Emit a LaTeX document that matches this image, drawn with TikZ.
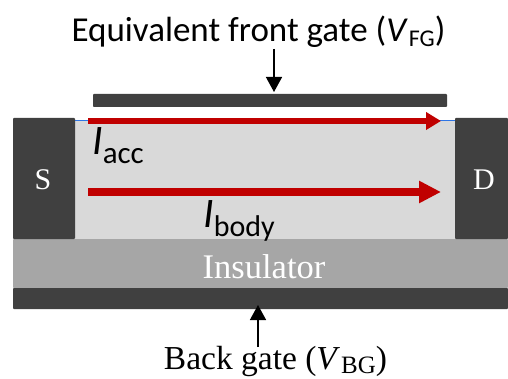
\documentclass[tikz,border=0pt]{standalone}
\usepackage{fontspec}
\setmainfont{Liberation Serif}
\newfontfamily\carl{Carlito}
\usetikzlibrary{arrows.meta}
\definecolor{dgray}{HTML}{404040}
\definecolor{chan}{HTML}{D9D9D9}
\definecolor{insul}{HTML}{A6A6A6}
\definecolor{cred}{HTML}{C00000}
\definecolor{cblue}{HTML}{2E75E6}
\tikzset{
 block/.style={draw=none,rounded corners=0.8pt},
 current/.style={draw=cred,line width=#1},
 current/.default=6pt,
 gatearrow/.style={draw=black,line width=1.4pt,-{Triangle[length=15pt,width=16pt]},shorten >=0pt},
 lab/.style={inner sep=0pt,anchor=base},
}
\begin{document}
\begin{tikzpicture}[x=1pt,y=-1pt]
\useasboundingbox (0,0) rectangle (508,379);
\path[fill=white] (0,0) rectangle (508,379);
\fill[chan] (75,120) rectangle (455,239);
\draw[cblue,line width=1.2pt] (75,120.5) -- (455,120.5);
\fill[block,fill=insul] (13,239) rectangle (508,288);
\fill[block,fill=dgray] (13,288) rectangle (508,309);
\fill[block,fill=dgray] (13,118) rectangle (75,239);
\fill[block,fill=dgray] (455,118) rectangle (508,239);
\fill[block,fill=dgray] (93,94) rectangle (447,107);
\coordinate (a1s) at (88,121);
\coordinate (a1e) at (441,121);
\coordinate (a2s) at (88,192);
\coordinate (a2e) at (441,192);
\coordinate (fgs) at (274,49);
\coordinate (fge) at (274,92);
\coordinate (bgs) at (258,347);
\coordinate (bge) at (258,305);
\draw[current=6pt,-{Triangle[length=15pt,width=17pt]}] (a1s) -- (a1e);
\draw[current=7.5pt,-{Triangle[length=22pt,width=21pt]}] (a2s) -- (a2e);
\draw[gatearrow] (fgs) -- (fge);
\draw[gatearrow] (bgs) -- (bge);
\node[lab,text=white,font=\fontsize{30}{30}\selectfont] (s) at (43,190) {S};
\node[lab,text=white,font=\fontsize{30}{30}\selectfont] (d) at (484,190) {D};
\node[lab,text=white,font=\fontsize{34.5}{34.5}\selectfont] (ins) at (264,278) {Insulator};
\node[lab,font=\carl\fontsize{35}{35}\selectfont] (fg) at (258.5,42) {Equivalent front gate (\textit{V}\kern1pt\raisebox{-5pt}{\fontsize{24}{24}\selectfont FG})};
\node[lab,font=\fontsize{33.5}{33.5}\selectfont] (bg) at (275.5,369.5) {Back gate (\textit{V}\kern1pt\raisebox{-4pt}{\fontsize{25}{25}\selectfont BG})};
\node[lab,anchor=base west,font=\carl\fontsize{42}{42}\selectfont] (iacc) at (92,155) {\textit{I}\raisebox{-9pt}{\fontsize{31}{31}\selectfont acc}};
\node[lab,anchor=base west,font=\carl\fontsize{42}{42}\selectfont] (ibody) at (203,228) {\textit{I}\raisebox{-9pt}{\fontsize{30}{30}\selectfont body}};
\end{tikzpicture}
\end{document}
